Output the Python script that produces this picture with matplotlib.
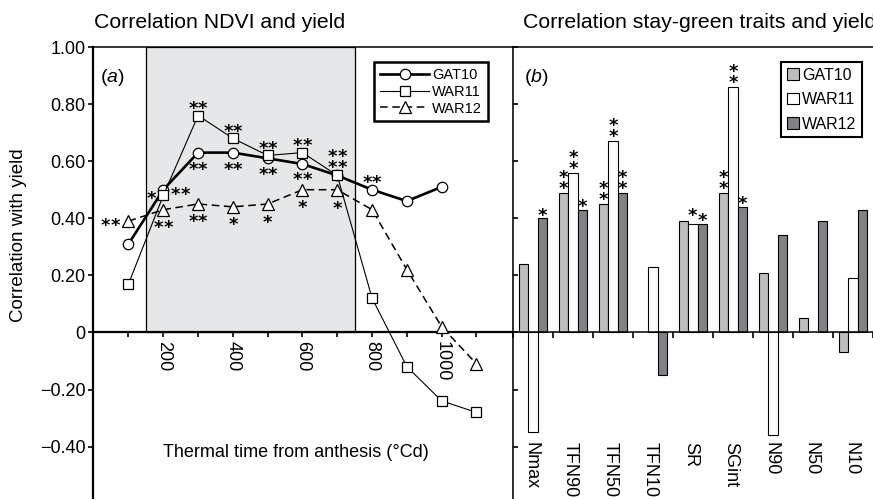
import matplotlib

matplotlib.use("Agg")
import matplotlib.pyplot as plt
import numpy as np
from matplotlib.lines import Line2D
from matplotlib.patches import Patch, Rectangle

plt.rcParams["font.family"] = ["Liberation Sans", "DejaVu Sans"]
plt.rcParams["mathtext.fontset"] = "custom"
plt.rcParams["mathtext.it"] = "Liberation Sans:italic"
plt.rcParams["mathtext.rm"] = "Liberation Sans"

# (a) NDVI vs yield correlation over thermal time after anthesis
thermal_time = [100, 200, 300, 400, 500, 600, 700, 800, 900, 1000, 1100]
gat10_r = [0.31, 0.50, 0.63, 0.63, 0.61, 0.59, 0.55, 0.50, 0.46, 0.51, np.nan]
war11_r = [0.17, 0.48, 0.76, 0.68, 0.62, 0.63, 0.55, 0.12, -0.12, -0.24, -0.28]
war12_r = [0.39, 0.43, 0.45, 0.44, 0.45, 0.50, 0.50, 0.43, 0.22, 0.02, -0.11]
shade_start, shade_end = 150, 750

# significance marks: (series, point index, stars, dx px, dy px)
ndvi_sig = [
    ("WAR12", 0, "**", -18, 0),
    ("GAT10", 1, "**", 17, 0), ("WAR11", 1, "*", -12, -2), ("WAR12", 1, "**", 0, 13),
    ("GAT10", 2, "**", 0, 12), ("WAR11", 2, "**", 0, -11.5), ("WAR12", 2, "**", 0, 13),
    ("GAT10", 3, "**", 0, 12), ("WAR11", 3, "**", 0, -11.5), ("WAR12", 3, "*", 0, 13),
    ("GAT10", 4, "**", 0, 11), ("WAR11", 4, "**", 0, -11.5), ("WAR12", 4, "*", 0, 14),
    ("GAT10", 5, "**", 0, 11), ("WAR11", 5, "**", 0, -11.5), ("WAR12", 5, "*", 0, 13),
    ("WAR11", 6, "**", 0, -23.5), ("GAT10", 6, "**", 0, -12.5), ("WAR12", 6, "*", 0, 13.5),
    ("GAT10", 7, "**", 0, -12.5),
]

# (b) stay-green traits vs yield
traits = ["Nmax", "TFN90", "TFN50", "TFN10", "SR", "SGint", "N90", "N50", "N10"]
gat10_bar = [0.24, 0.49, 0.45, np.nan, 0.39, 0.49, 0.21, 0.05, -0.07]
war11_bar = [-0.35, 0.56, 0.67, 0.23, 0.38, 0.86, -0.36, np.nan, 0.19]
war12_bar = [0.40, 0.43, 0.49, -0.15, 0.38, 0.44, 0.34, 0.39, 0.43]
gat10_sig = ["", "**", "**", "", "", "**", "", "", ""]
war11_sig = ["", "**", "**", "", "*", "**", "", "", ""]
war12_sig = ["*", "*", "**", "", "*", "*", "", "", ""]

yticks = [-0.4, -0.2, 0, 0.2, 0.4, 0.6, 0.8, 1.0]
ytick_labels = ["\u22120.40", "\u22120.20", "0", "0.20", "0.40", "0.60", "0.80", "1.00"]

FS = 13
STAR_FS = 13
PX = 0.72  # points per pixel at dpi 100


def star(ax, x, y, dx, dy):
    # dx, dy: pixel offset of one star's visual centre (dy positive = down)
    ax.annotate("*", (x, y), xytext=(dx * PX, -dy * PX - 0.57 * STAR_FS),
                textcoords="offset points", ha="center", va="baseline",
                fontsize=STAR_FS, fontweight="bold", family="DejaVu Sans", zorder=6)


def star_row(ax, x, y, txt, dx, dy, gap=9.5):
    n = len(txt)
    for j in range(n):
        star(ax, x, y, dx + (j - (n - 1) / 2) * gap, dy)


fig = plt.figure(figsize=(8.73, 4.99), dpi=100)
ax1 = fig.add_axes([93 / 873, 0, 420 / 873, 452 / 499])
ax2 = fig.add_axes([513 / 873, 0, 360 / 873, 452 / 499])
ylim = (-0.5835, 1.0)

# ---- panel (a)
ax1.add_patch(Rectangle((shade_start, 0), shade_end - shade_start, 1.0,
                        facecolor="#e6e7e8", edgecolor="black", lw=0.9, zorder=0))
series = {
    "GAT10": (gat10_r, dict(color="black", lw=1.9, ls="-", marker="o", ms=7.5)),
    "WAR11": (war11_r, dict(color="black", lw=0.8, ls="-", marker="s", ms=6.8)),
    "WAR12": (war12_r, dict(color="black", lw=1.1, ls=(0, (5, 3)), marker="^", ms=8)),
}
for name, (vals, kw) in series.items():
    ax1.plot(thermal_time, vals, mfc="white", mec="black", mew=0.9, label=name, zorder=3, **kw)
for name, i, txt, dx, dy in ndvi_sig:
    star_row(ax1, thermal_time[i], series[name][0][i], txt, dx, dy)

ax1.set_xlim(-2, 1205)
ax1.set_ylim(*ylim)
ax1.set_xticks([200, 400, 600, 800, 1000])
ax1.set_xticks([100, 300, 500, 700, 900, 1100], minor=True)
ax1.set_yticks(yticks)
ax1.set_yticklabels(ytick_labels)
ax1.spines["bottom"].set_position(("data", 0))
ax1.spines["bottom"].set_linewidth(1.6)
ax1.spines["left"].set_linewidth(1.6)
ax1.spines["top"].set_linewidth(1.1)
ax1.spines["right"].set_linewidth(1.0)
ax1.tick_params(axis="y", direction="out", length=3.5, width=1.2, labelsize=FS, pad=2)
ax1.tick_params(axis="x", which="both", direction="out", length=3.5, width=1.2,
                labelsize=FS, labelrotation=270, pad=3)
ax1.text(0.167, 0.102, "Thermal time from anthesis (\u00b0Cd)", transform=ax1.transAxes,
         ha="left", va="center", fontsize=FS)
ax1.text(0.016, 0.932, "($\\mathit{a}$)", transform=ax1.transAxes, fontsize=FS + 1,
         va="center")

h1 = [Line2D([], [], mfc="white", mec="black", mew=0.9, **series[n][1]) for n in series]
leg1 = ax1.legend(h1, list(series), loc="upper right", bbox_to_anchor=(0.9405, 0.967),
                  borderaxespad=0, fancybox=False, framealpha=1, edgecolor="black",
                  fontsize=10.5, handlelength=3.4, handletextpad=0.2, labelspacing=0.2,
                  borderpad=0.4)
leg1.get_frame().set_linewidth(1.8)

# ---- panel (b)
x = np.arange(len(traits))
w = 0.232
bar_sets = [(gat10_bar, gat10_sig, "#bcbec0", "GAT10"),
            (war11_bar, war11_sig, "white", "WAR11"),
            (war12_bar, war12_sig, "#808285", "WAR12")]
for k, (vals, sig, col, name) in enumerate(bar_sets):
    xs = x + (k - 1) * w
    ax2.bar(xs, vals, width=w, color=col, edgecolor="black", lw=0.8, zorder=2)
    for xi, v, s in zip(xs, vals, sig):
        if len(s) > 1:
            for j in range(len(s)):
                star(ax2, xi, v, 0, -(9 + 11 * j))
        elif s:
            # the lone SR/WAR11 star sits a little higher than the others
            star(ax2, xi, v, -1 if name == "WAR11" else 0,
                 -13 if name == "WAR11" else -8)

for xi, t in zip(x, traits):
    ax2.text(xi - 0.06, -0.383, t, rotation=270, ha="center", va="top", fontsize=FS)

ax2.set_xlim(-0.5, 8.26)
ax2.set_ylim(*ylim)
ax2.set_xticks(np.arange(-0.5, 9, 1.0))
ax2.set_xticklabels([])
ax2.set_yticks(yticks)
ax2.set_yticklabels([])
ax2.spines["bottom"].set_position(("data", 0))
ax2.spines["bottom"].set_linewidth(1.1)
ax2.spines["left"].set_linewidth(1.1)
ax2.spines["top"].set_linewidth(1.1)
ax2.spines["right"].set_visible(False)
ax2.tick_params(axis="y", direction="in", length=3.5, width=1.2)
ax2.tick_params(axis="x", direction="out", length=4, width=1.2)
ax2.text(0.03, 0.932, "($\\mathit{b}$)", transform=ax2.transAxes, fontsize=FS + 1,
         va="center")

h2 = [Patch(facecolor=c, edgecolor="black", lw=0.8) for _, _, c, _ in bar_sets]
leg2 = ax2.legend(h2, [n for *_, n in bar_sets], loc="upper right",
                  bbox_to_anchor=(349 / 360, 0.967), borderaxespad=0, fancybox=False,
                  framealpha=1, edgecolor="black", fontsize=11.5, handlelength=0.75,
                  handleheight=0.75, handletextpad=0.2, labelspacing=0.6, borderpad=0.35)
leg2.get_frame().set_linewidth(1.5)

fig.text(94 / 873, 1 - 28 / 499, "Correlation NDVI and yield", fontsize=15.3, va="baseline")
fig.text(523 / 873, 1 - 28 / 499, "Correlation stay-green traits and yield",
         fontsize=15.3, va="baseline")
fig.text(19 / 873, 1 - 235 / 499, "Correlation with yield", rotation=90,
         ha="center", va="center", fontsize=FS + 0.5)

fig.savefig("out.png", dpi=100)
